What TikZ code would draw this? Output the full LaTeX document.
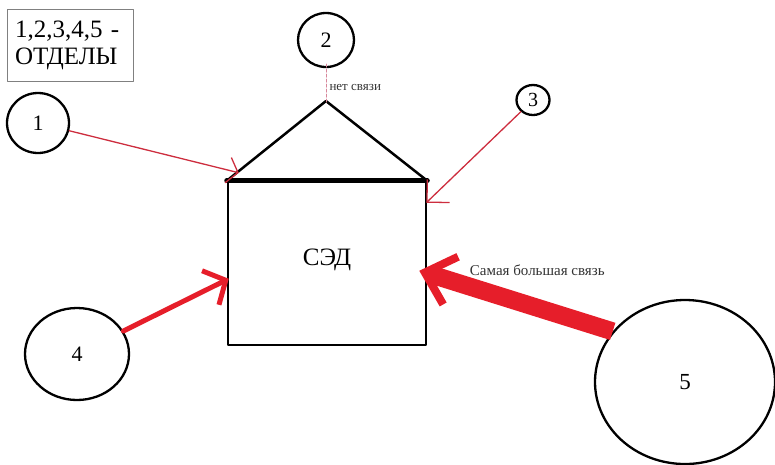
\documentclass[tikz,border=0pt]{standalone}
\usepackage{fontspec}
\setmainfont{Liberation Serif}
\usetikzlibrary{shapes.geometric,arrows.meta}
\definecolor{bigred}{RGB}{230,30,42}
\definecolor{thinred}{RGB}{205,45,62}
\definecolor{nolink}{RGB}{215,135,155}
\begin{document}
\begin{tikzpicture}[x=1pt,y=-1pt,line join=round,line cap=round,
	otdel/.style={draw,ellipse,line width=2.3pt,inner sep=0pt,font=\fontsize{22}{24}\selectfont},
	svyaz/.style={thinred,line width=1.3pt},
	fsz/.style={font=\fontsize{#1}{#1}\selectfont}]
			\useasboundingbox (0,0) rectangle (775,464);
			\node[draw=gray,line width=0.8pt,align=left,text width=110pt,inner xsep=8pt,minimum height=72pt,font=\fontsize{25}{27}\selectfont] (legend) at (70,45) {1,2,3,4,5 -\\ОТДЕЛЫ};
			% house
			\node[draw,line width=2.5pt,minimum width=198pt,minimum height=163pt,inner sep=0pt,text height=17pt,text depth=14pt,fsz=25] (sed) at (327,263.5) {СЭД};
			\coordinate (roof) at (326,101);
			\draw[line width=2.5pt] (sed.north west)--(roof)--(sed.north east);
			\draw[line width=5pt] (sed.north west)--(sed.north east);
			% otdely
			\node[otdel,minimum width=62pt,minimum height=60pt] (o1) at (38,123) {1};
			\node[otdel,minimum width=56pt,minimum height=54pt] (o2) at (326,40) {2};
			\node[otdel,minimum width=33pt,minimum height=30pt,fsz=20] (o3) at (533,100) {3};
			\node[otdel,minimum width=104pt,minimum height=92pt] (o4) at (77,354) {4};
			\node[otdel,minimum width=180pt,minimum height=164pt,fsz=23] (o5) at (685,382) {5};
			% svyazi
			\draw[nolink,densely dashed,line width=1pt] ([yshift=4]o2.south)--([yshift=-2]roof) node[pos=0.6,right,inner sep=3pt,black!80,fsz=13]{нет связи};
			\draw[svyaz,-{Straight Barb[length=10pt,width=26pt,line width=1.3pt]}] (o1)--([shift={(12,-8)}]sed.north west);
			\draw[svyaz,-{Straight Barb[length=16pt,width=32pt,line width=1.3pt]}] (o3)--([shift={(-1,22)}]sed.north east);
			\draw[bigred,line width=5pt,-{Straight Barb[length=17pt,width=38pt,line width=5pt]}] (o4)--([shift={(2,98)}]sed.north west);
			\draw[bigred,line width=18pt,line cap=butt,-{Straight Barb[length=27pt,width=50pt,line width=8pt]}] (o5.145)--([shift={(-8,90)}]sed.north east) node[pos=0.75,anchor=west,xshift=-10pt,yshift=16pt,black!80,fsz=15]{Самая большая связь};
			\end{tikzpicture}
\end{document}
